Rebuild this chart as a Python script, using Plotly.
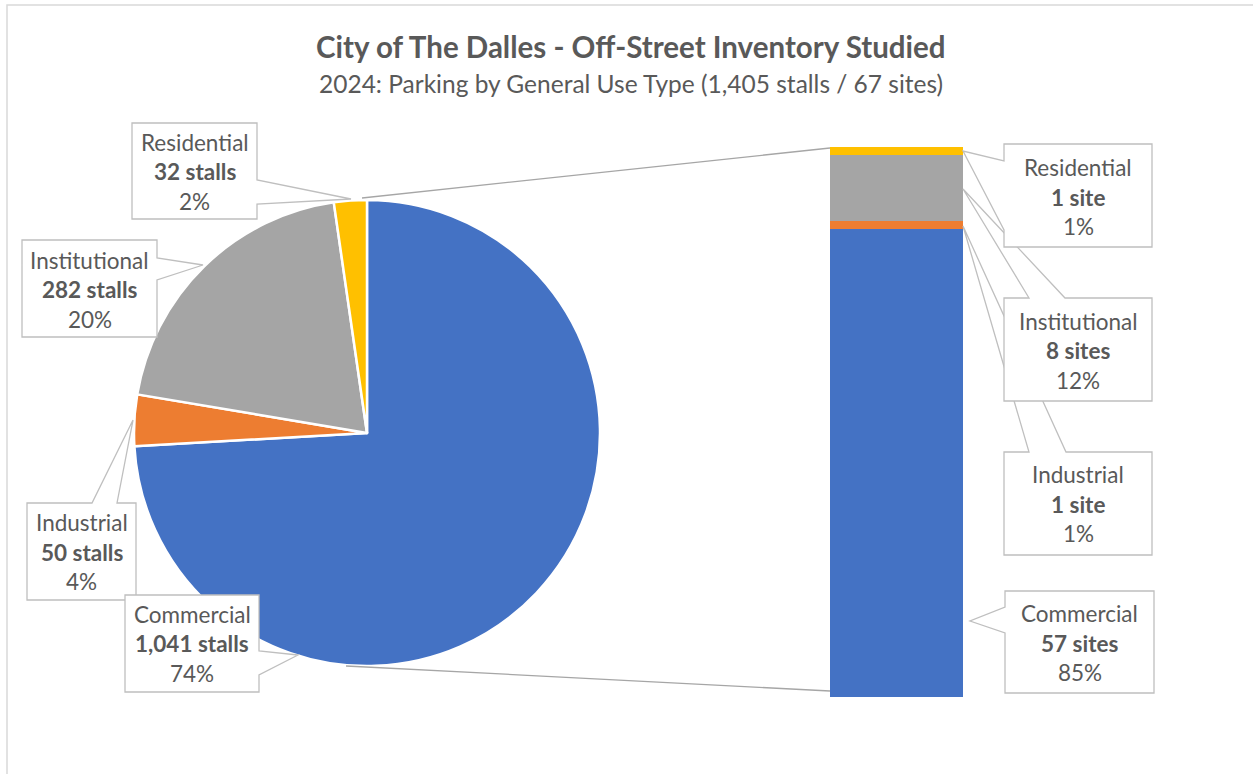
import plotly.graph_objects as go

# ---------------- data ----------------
categories = ["Commercial", "Industrial", "Institutional", "Residential"]
stalls = [1041, 50, 282, 32]
sites = [57, 1, 8, 1]
colors = ["#4472C4", "#ED7D31", "#A5A5A5", "#FFC000"]
title_text = "City of The Dalles - Off-Street Inventory Studied"
subtitle_text = "2024: Parking by General Use Type (1,405 stalls / 67 sites)"

# ---------------- helpers ----------------
W, H = 1253, 774
FONT = "Lato"
TXT = "#595959"
BORDER = "#BFBFBF"


def px(x):
    return x / W


def py(y):
    return 1 - y / H


def pct(v, tot):
    return f"{round(100 * v / tot)}%"


tot_stalls = sum(stalls)
tot_sites = sum(sites)

fig = go.Figure()

# pie (stalls)
fig.add_trace(go.Pie(
    labels=categories, values=stalls, sort=False, direction="clockwise", rotation=0,
    marker=dict(colors=colors, line=dict(color="white", width=2.5)),
    textinfo="none", showlegend=False,
    domain=dict(x=[px(134), px(600)], y=[py(666), py(200)]),
))

# stacked bar (sites)
for c, v, col in zip(categories, sites, colors):
    fig.add_trace(go.Bar(x=["Sites"], y=[v], name=c, marker=dict(color=col, line=dict(width=0)),
                         width=1, showlegend=False, xaxis="x", yaxis="y"))

shapes = []
annotations = []

# outer chart frame
shapes.append(dict(type="rect", xref="paper", yref="paper", x0=px(7), x1=px(1270), y0=py(5), y1=py(800),
                   line=dict(color="#D9D9D9", width=1.5), fillcolor="rgba(0,0,0,0)", layer="below"))

# connector lines pie -> bar
shapes.append(dict(type="line", xref="paper", yref="paper", x0=px(362), y0=py(198), x1=px(830), y1=py(148),
                   line=dict(color="#A6A6A6", width=1.3)))
shapes.append(dict(type="line", xref="paper", yref="paper", x0=px(346), y0=py(666), x1=px(830), y1=py(691),
                   line=dict(color="#A6A6A6", width=1.3)))


def callout(points, cx, cy, lines):
    path = "M " + " L ".join(f"{px(x):.5f},{py(y):.5f}" for x, y in points) + " Z"
    shapes.append(dict(type="path", xref="paper", yref="paper", path=path, fillcolor="white",
                       line=dict(color=BORDER, width=1.3), layer="above"))
    for i, (t, bold) in enumerate(lines):
        annotations.append(dict(x=px(cx), y=py(cy + (i - 1) * 29.5), xref="paper", yref="paper",
                                text=f"<b>{t}</b>" if bold else t, showarrow=False,
                                xanchor="center", yanchor="middle",
                                font=dict(family=FONT, size=22.5, color=TXT)))


def lines_for(i, count, unit, tot):
    if unit == "stall":
        mid = f"{count:,} stall" + ("" if count == 1 else "s")
    else:
        mid = f"{count:,} site" + ("" if count == 1 else "s")
    return [(categories[i], False), (mid, True), (pct(count, tot), False)]


# left (pie) callouts: Residential, Institutional, Industrial, Commercial
callout([(132, 123), (257, 123), (257, 180), (351, 199), (257, 204), (257, 219), (132, 219)],
        194.5, 171.5, lines_for(3, stalls[3], "stall", tot_stalls))
callout([(22, 240), (157, 240), (157, 258), (203, 265), (157, 280), (157, 337), (22, 337)],
        89.5, 289.5, lines_for(2, stalls[2], "stall", tot_stalls))
callout([(27, 503), (92, 503), (133, 420), (117, 503), (136, 503), (136, 600), (27, 600)],
        81.5, 552, lines_for(1, stalls[1], "stall", tot_stalls))
callout([(125, 595), (259, 595), (259, 651), (298, 655), (259, 675), (259, 692), (125, 692)],
        192, 643.5, lines_for(0, stalls[0], "stall", tot_stalls))

# right (bar) callouts: Industrial, Institutional, Residential, Commercial
callout([(1004, 452), (1029, 452), (963, 226), (1066, 452), (1152, 452), (1152, 555), (1004, 555)],
        1078, 504, lines_for(1, sites[1], "site", tot_sites))
callout([(1004, 298), (1029, 298), (963, 189), (1065, 298), (1152, 298), (1152, 401), (1004, 401)],
        1078, 351, lines_for(2, sites[2], "site", tot_sites))
callout([(1004, 144), (1152, 144), (1152, 247), (1004, 247), (1004, 230), (963, 151), (1004, 161)],
        1078, 197, lines_for(3, sites[3], "site", tot_sites))
callout([(1005, 591), (1154, 591), (1154, 693), (1005, 693), (1005, 633), (970, 621), (1005, 607)],
        1079.5, 643, lines_for(0, sites[0], "site", tot_sites))

# titles
annotations.append(dict(x=px(631), y=py(47), xref="paper", yref="paper", text=f"<b>{title_text}</b>",
                        showarrow=False, xanchor="center", yanchor="middle",
                        font=dict(family=FONT, size=29.5, color=TXT)))
annotations.append(dict(x=px(631), y=py(83), xref="paper", yref="paper", text=subtitle_text,
                        showarrow=False, xanchor="center", yanchor="middle",
                        font=dict(family=FONT, size=24.5, color=TXT)))

fig.update_layout(
    width=W, height=H, margin=dict(l=0, r=0, t=0, b=0),
    paper_bgcolor="white", plot_bgcolor="white",
    barmode="stack", bargap=0,
    xaxis=dict(domain=[px(830), px(963)], range=[-0.5, 0.5], visible=False, fixedrange=True),
    yaxis=dict(domain=[py(697), py(147)], range=[0, tot_sites], visible=False, fixedrange=True),
    shapes=shapes, annotations=annotations,
)

fig.write_html("out.html")
